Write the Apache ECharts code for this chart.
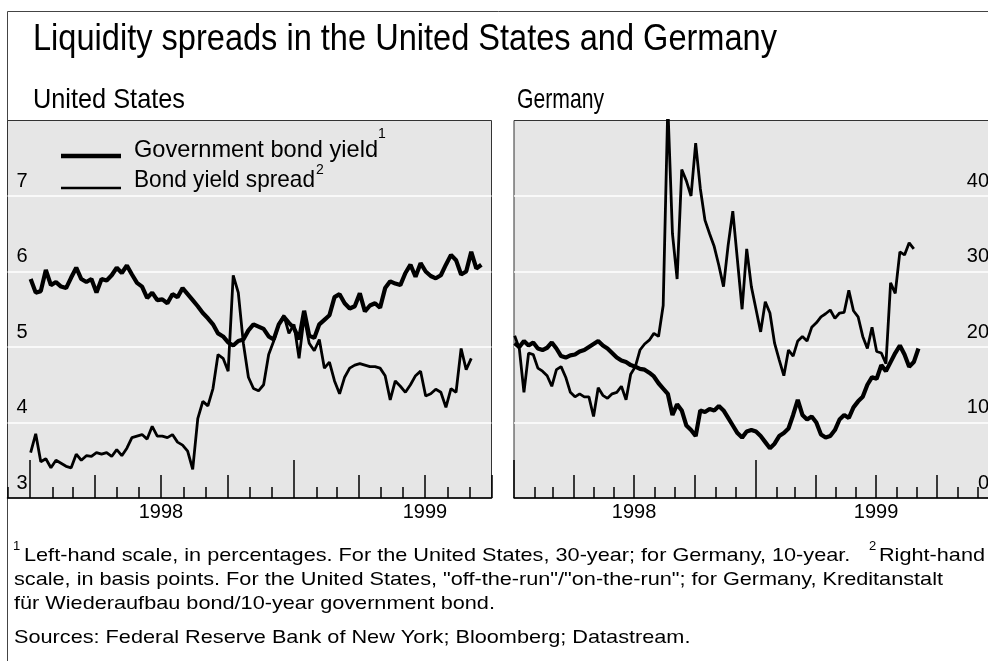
<!DOCTYPE html>
<html><head><meta charset="utf-8">
<script src="https://cdn.jsdelivr.net/npm/echarts@6/dist/echarts.min.js"></script>
<style>html,body{margin:0;padding:0;background:#fff}#c{width:988px;height:661px}</style>
</head><body><div id="c"></div>
<script>
// ---------- data (weekly observations, first one on 2 Jan 1998) ----------
const firstObs = [1998, 0, 2];
const usYield = [5.90,5.72,5.74,6.02,5.82,5.86,5.80,5.78,5.92,6.05,
  5.90,5.86,5.90,5.72,5.90,5.88,5.95,6.05,5.98,6.08,
  5.96,5.85,5.80,5.65,5.72,5.62,5.63,5.58,5.70,5.66,
  5.78,5.70,5.62,5.54,5.45,5.38,5.30,5.18,5.14,5.06,
  5.02,5.08,5.10,5.22,5.30,5.27,5.24,5.14,5.10,5.30,
  5.40,5.32,5.25,5.10,5.48,5.15,5.12,5.30,5.36,5.42,
  5.66,5.70,5.58,5.51,5.54,5.71,5.47,5.55,5.58,5.52,
  5.78,5.87,5.84,5.82,5.98,6.09,5.93,6.11,6.00,5.94,
  5.91,5.95,6.09,6.22,6.15,5.96,6.00,6.26,6.04,6.09];
const usSpread = [3.60,3.85,3.48,3.52,3.40,3.50,3.46,3.42,3.40,3.58,
  3.50,3.56,3.55,3.60,3.58,3.60,3.55,3.64,3.56,3.66,
  3.80,3.82,3.84,3.78,3.95,3.82,3.82,3.80,3.84,3.74,
  3.70,3.62,3.38,4.05,4.28,4.22,4.45,4.90,4.85,4.68,
  5.95,5.72,5.05,4.60,4.45,4.42,4.50,4.90,5.08,5.30,
  5.42,5.18,5.30,4.85,5.40,5.05,4.95,5.10,4.72,4.80,
  4.55,4.38,4.60,4.72,4.76,4.78,4.76,4.74,4.74,4.72,
  4.62,4.30,4.55,4.48,4.40,4.50,4.62,4.68,4.35,4.38,
  4.44,4.40,4.20,4.45,4.40,4.98,4.70,4.85];
const deYield = [5.05,5.00,5.08,5.02,5.06,4.98,4.96,4.99,5.06,4.98,
  4.88,4.86,4.89,4.90,4.94,4.96,5.00,5.04,5.08,5.02,
  4.98,4.92,4.86,4.82,4.80,4.76,4.74,4.71,4.70,4.66,
  4.61,4.52,4.45,4.38,4.10,4.24,4.16,3.96,3.90,3.82,
  4.16,4.14,4.18,4.16,4.22,4.16,4.06,3.96,3.86,3.80,
  3.88,3.90,3.88,3.82,3.74,3.66,3.72,3.82,3.86,3.92,
  4.10,4.30,4.10,4.04,4.08,4.00,3.84,3.80,3.82,3.90,
  4.04,4.10,4.06,4.20,4.28,4.34,4.50,4.60,4.58,4.76,
  4.68,4.80,4.92,5.02,4.90,4.74,4.80,4.98];
const deSpread = [21.5,19.8,14.0,19.2,19.0,17.2,16.8,16.2,14.8,17.0,
  17.4,16.0,14.0,13.4,13.8,13.4,13.4,10.8,14.6,13.6,
  13.2,13.8,14.0,14.8,13.0,16.4,17.4,19.6,20.4,20.9,
  21.8,21.4,25.5,52.0,35.0,29.0,43.5,42.0,40.0,47.0,
  41.0,36.8,35.0,33.3,30.8,28.0,33.5,38.0,31.5,25.0,
  33.0,28.0,25.0,22.0,26.0,24.5,20.5,18.3,16.2,19.6,
  18.8,20.8,21.4,20.8,22.6,23.2,24.0,24.4,24.9,23.8,
  24.5,24.6,27.5,24.8,24.0,21.4,19.8,22.6,19.4,19.2,
  17.8,28.5,27.1,32.6,32.2,33.8,33.0];
const usAxisRange = [[1997, 11, 1], [1999, 9, 1]];
const deAxisRange = [[1998, 0, 1], [2000, 0, 1]];
const yearLabels = [1998, 1999];
const usLeftScale = [3, 8, 1];
const deRightScale = [0, 50, 10];
const titleText = 'Liquidity spreads in the United States and Germany';
const panelTitles = ['United States', 'Germany'];
const legendNames = ['Government bond yield', 'Bond yield spread'];
const notes = [
  'Left-hand scale, in percentages. For the United States, 30-year; for Germany, 10-year.',
  'Right-hand',
  'scale, in basis points. For the United States, "off-the-run"/"on-the-run"; for Germany, Kreditanstalt',
  'f\u00fcr Wiederaufbau bond/10-year government bond.',
  'Sources: Federal Reserve Bank of New York; Bloomberg; Datastream.'
];

// ---------- helpers: x is measured in days since 1 Jan 1998 ----------
const DAY = 864e5;
const EPOCH = Date.UTC(1998, 0, 1);
const dayOf = a => (Date.UTC(a[0], a[1], a[2]) - EPOCH) / DAY;
const d0 = dayOf(firstObs);
const pairs = vals => vals.map((v, i) => [d0 + i * 7, v]);
function monthTicks(range, step) {
  const out = [];
  let y = range[0][0], m = range[0][1];
  const end = dayOf(range[1]);
  while (dayOf([y, m, 1]) <= end) {
    if (m % step === 0) out.push(dayOf([y, m, 1]));
    m++; if (m > 11) { m = 0; y++; }
  }
  return out;
}
const midYears = yearLabels.map(y => dayOf([y, 6, 1]));
const yearOf = d => new Date(EPOCH + d * DAY).getUTCFullYear();
const FF = '"Liberation Sans", Arial, sans-serif';
const ctx = document.createElement('canvas').getContext('2d');
function tw(t, font) { ctx.font = font; return ctx.measureText(t).width; }
function txt(t, size, x, y, targetW, scale) {
  const font = size + 'px ' + FF;
  const s = scale || (targetW ? targetW / tw(t, font) : 1);
  return { type: 'text', x: x, y: y, scaleX: s, z: 10,
    style: { text: t, font: font, fill: '#000', align: 'left', verticalAlign: 'middle' } };
}

function xAxes(grid, range) {
  const base = { gridIndex: grid, type: 'value', position: 'bottom', min: dayOf(range[0]), max: dayOf(range[1]),
    splitLine: { show: false } };
  const tickStyle = { color: '#000', width: 1.5 };
  return [
    Object.assign({}, base, {
      axisLine: { show: true, onZero: false, lineStyle: { color: '#000', width: 1.5 } },
      axisTick: { show: true, inside: true, length: 11, customValues: monthTicks(range, 1), lineStyle: tickStyle },
      axisLabel: { show: true, customValues: midYears, margin: 4, fontSize: 20, lineHeight: 20,
        color: '#000', fontFamily: FF, formatter: v => String(yearOf(v)) }
    }),
    Object.assign({}, base, {
      axisLine: { show: false, onZero: false }, axisLabel: { show: false },
      axisTick: { show: true, inside: true, length: 23, customValues: monthTicks(range, 3), lineStyle: tickStyle }
    }),
    Object.assign({}, base, {
      axisLine: { show: false, onZero: false }, axisLabel: { show: false },
      axisTick: { show: true, inside: true, length: 38, customValues: monthTicks(range, 12), lineStyle: tickStyle }
    })
  ];
}

const split = { show: true, showMinLine: false, showMaxLine: false, lineStyle: { color: '#fff', width: 1.5 } };
const ylab = { inside: true, margin: 9, fontSize: 20, lineHeight: 20, color: '#000', fontFamily: FF,
  verticalAlign: 'bottom', padding: [0, 0, 5, 0], showMaxLabel: false };

// ---------- text layout ----------
const fnSize = 19;
const fnScale = 929 / tw(notes[2], fnSize + 'px ' + FF);
const rhW = tw(notes[1], fnSize + 'px ' + FF) * fnScale;
const graphics = [
  { type: 'rect', z: -1, shape: { x: 7.5, y: 11.5, width: 1200, height: 900 },
    style: { fill: 'none', stroke: '#444', lineWidth: 1 } },
  txt(titleText, 36, 33, 40, 744),
  txt(panelTitles[0], 28, 33, 100, 152),
  txt(panelTitles[1], 28, 517, 100, 87),
  { type: 'line', z: 10, shape: { x1: 61, y1: 156, x2: 121, y2: 156 }, style: { stroke: '#000', lineWidth: 4.5 } },
  { type: 'line', z: 10, shape: { x1: 61, y1: 188, x2: 121, y2: 188 }, style: { stroke: '#000', lineWidth: 2.5 } },
  txt(legendNames[0], 24, 134, 150.5, 244),
  txt('1', 14, 378, 134),
  txt(legendNames[1], 24, 134, 180.5, 181),
  txt('2', 14, 316, 170),
  txt('1', 13, 13, 546),
  txt(notes[0], fnSize, 24, 556, null, fnScale),
  txt('2', 13, 985 - rhW - 10, 546),
  txt(notes[1], fnSize, 985 - rhW, 556, null, fnScale),
  txt(notes[2], fnSize, 14, 580, null, fnScale),
  txt(notes[3], fnSize, 14, 604, null, fnScale),
  txt(notes[4], fnSize, 14, 638, null, fnScale)
];

const chart = echarts.init(document.getElementById('c'), null, { renderer: 'canvas' });
chart.setOption({
  animation: false,
  backgroundColor: '#fff',
  textStyle: { fontFamily: FF },
  grid: [
    { left: 7.5, top: 120.5, width: 484, height: 377.5, show: true, backgroundColor: '#e6e6e6',
      borderColor: '#333', borderWidth: 1, outerBoundsMode: 'none', containLabel: false },
    { left: 514, top: 120.5, width: 484, height: 377.5, show: true, backgroundColor: '#e6e6e6',
      borderColor: '#333', borderWidth: 1, outerBoundsMode: 'none', containLabel: false }
  ],
  xAxis: xAxes(0, usAxisRange).concat(xAxes(1, deAxisRange)),
  yAxis: [
    { gridIndex: 0, type: 'value', position: 'left', min: usLeftScale[0], max: usLeftScale[1], interval: usLeftScale[2],
      axisLine: { show: false }, axisTick: { show: false }, splitLine: split,
      axisLabel: Object.assign({}, ylab, { align: 'left' }) },
    { gridIndex: 1, type: 'value', position: 'right', min: deRightScale[0], max: deRightScale[1], interval: deRightScale[2],
      axisLine: { show: false }, axisTick: { show: false }, splitLine: split,
      axisLabel: Object.assign({}, ylab, { align: 'right' }) },
    { gridIndex: 1, type: 'value', position: 'left', min: usLeftScale[0], max: usLeftScale[1], interval: usLeftScale[2], show: false,
      splitLine: { show: false } }
  ],
  graphic: graphics,
  series: [
    { name: 'US ' + legendNames[0], type: 'line', xAxisIndex: 0, yAxisIndex: 0, data: pairs(usYield),
      showSymbol: false, symbol: 'none', lineStyle: { color: '#000', width: 4.2 }, z: 3 },
    { name: 'US ' + legendNames[1], type: 'line', xAxisIndex: 0, yAxisIndex: 0, data: pairs(usSpread),
      showSymbol: false, symbol: 'none', lineStyle: { color: '#000', width: 2.8 }, z: 3 },
    { name: 'Germany ' + legendNames[0], type: 'line', xAxisIndex: 3, yAxisIndex: 2, data: pairs(deYield),
      showSymbol: false, symbol: 'none', lineStyle: { color: '#000', width: 4.2 }, z: 3 },
    { name: 'Germany ' + legendNames[1], type: 'line', xAxisIndex: 3, yAxisIndex: 1, data: pairs(deSpread),
      showSymbol: false, symbol: 'none', lineStyle: { color: '#000', width: 2.8 }, z: 3 }
  ]
});
</script>
</body></html>
